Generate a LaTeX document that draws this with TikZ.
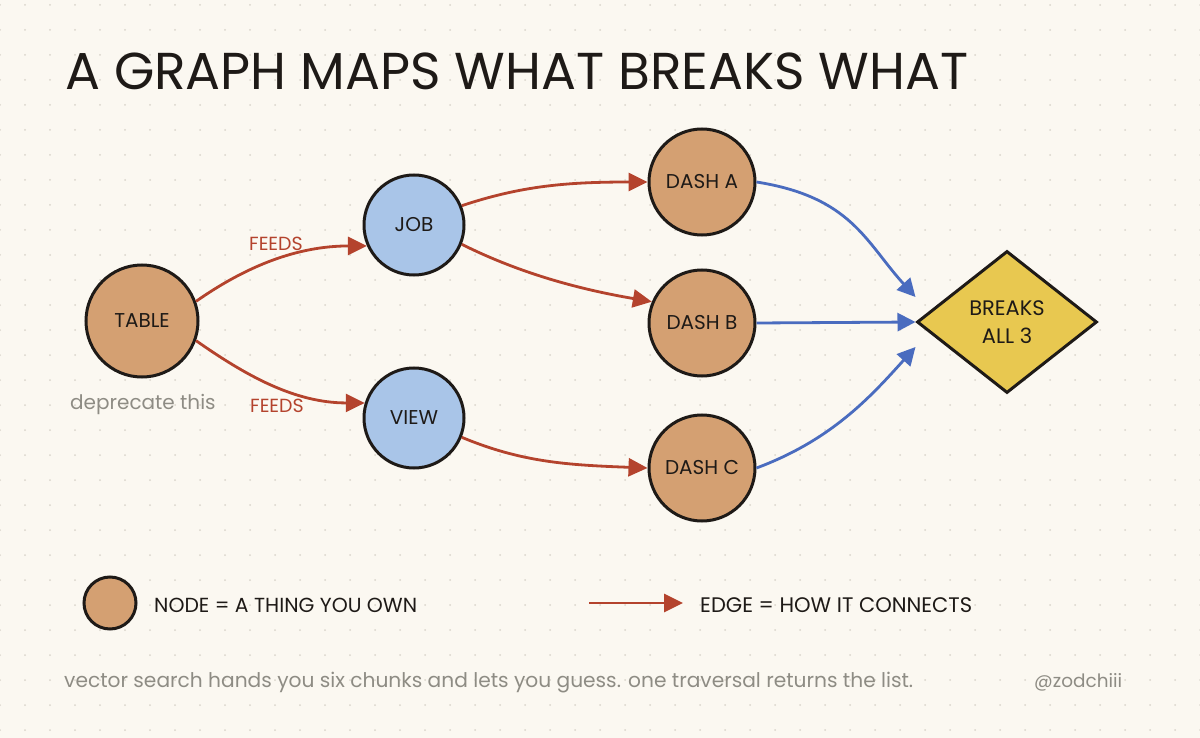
\documentclass[tikz,border=0pt]{standalone}
\usepackage{fontspec}
\setmainfont{Poppins}
\usetikzlibrary{arrows.meta,shapes.geometric}
\definecolor{bg}{HTML}{FBF8F1}
\definecolor{dotc}{HTML}{D9D5CC}
\definecolor{ink}{HTML}{1E1A17}
\definecolor{tan}{HTML}{D4A072}
\definecolor{sky}{HTML}{A9C5E8}
\definecolor{gold}{HTML}{E8C850}
\definecolor{rust}{HTML}{B4432D}
\definecolor{steel}{HTML}{4A6CBF}
\definecolor{muted}{HTML}{8E8C84}
\newcommand{\fitw}[2]{\resizebox{#1}{!}{#2}}
\tikzset{
  obj/.style={circle,draw=ink,line width=3pt,inner sep=0pt,text=ink,font=\fontsize{20}{23}\selectfont},
  tannode/.style={obj,fill=tan},
  skynode/.style={obj,fill=sky},
  redge/.style={draw=rust,line width=2.8pt,-{Triangle[length=19pt,width=18pt]}},
  bedge/.style={draw=steel,line width=2.8pt,-{Triangle[length=18pt,width=18pt]}},
  elabel/.style={text=rust,font=\fontsize{19}{21}\selectfont,inner sep=0pt},
  plain/.style={text=ink,inner sep=0pt,anchor=west},
  greytext/.style={text=muted,inner sep=0pt,anchor=west}
}
\begin{document}
\begin{tikzpicture}[x=1pt,y=-1pt]
\fill[bg] (0,0) rectangle (1200,738);
\useasboundingbox (0,0) rectangle (1200,738);
\foreach \i in {0,...,48} {\foreach \j in {0,...,29} {\fill[dotc] (25*\i,5+25*\j) circle[radius=1pt];}}

% title
\node[plain] (title) at (65,71) {\fitw{903pt}{\fontsize{50}{60}\selectfont A GRAPH MAPS WHAT BREAKS WHAT}};

% nodes
\node[tannode,minimum size=112pt] (table) at (142,321) {TABLE};
\node[skynode,minimum size=100pt] (job) at (414,225) {JOB};
\node[skynode,minimum size=100pt] (view) at (414,418) {VIEW};
\node[tannode,minimum size=106pt] (dasha) at (702,182) {DASH A};
\node[tannode,minimum size=106pt] (dashb) at (702,323) {DASH B};
\node[tannode,minimum size=106pt] (dashc) at (702,468) {DASH C};
\node[diamond,draw=ink,line width=3pt,fill=gold,inner sep=0pt,minimum width=180pt,minimum height=142pt,align=center,text=ink,font=\fontsize{21}{28}\selectfont] (brk) at (1007,322) {BREAKS\\ALL 3};

\node[greytext,font=\fontsize{20}{23}\selectfont] (dep) at (70,404) {deprecate this};
\node[elabel] (f1) at (276,244) {FEEDS};
\node[elabel] (f2) at (277,406) {FEEDS};

% red edges
\draw[redge] (table.20) .. controls +(50,-35) and +(-70,0) .. (job.204);
\draw[redge] (table.-20) .. controls +(50,35) and +(-70,0) .. (view.163);
\draw[redge] (job.22) .. controls +(60,-20) and +(-80,0) .. (dasha.west);
\draw[redge] (job.-22) .. controls +(60,30) and +(-70,-12) .. (dashb.157);
\draw[redge] (view.-22) .. controls +(60,25) and +(-80,-3) .. (dashc.west);

% blue edges
\draw[bedge] (dasha.east) .. controls +(95,15) and +(-50,-55) .. ([yshift=25pt]brk.west);
\draw[bedge] (dashb.east) -- (brk.west);
\draw[bedge] (dashc.east) .. controls +(75,-28) and +(-45,50) .. ([yshift=-25pt]brk.west);

% legend
\node[tannode,minimum size=52pt] (lnode) at (110,603) {};
\node[plain] (ltext1) at (154,605) {\fitw{263pt}{\fontsize{20}{24}\selectfont NODE = A THING YOU OWN}};
\coordinate (la) at (589,603);
\coordinate (lb) at (683,603);
\draw[redge] (la) -- (lb);
\node[plain] (ltext2) at (700,605) {\fitw{272pt}{\fontsize{20}{24}\selectfont EDGE = HOW IT CONNECTS}};

% footer
\node[greytext] (foot) at (64,683) {\fitw{849pt}{\fontsize{18}{22}\selectfont vector search hands you six chunks and lets you guess. one traversal returns the list.}};
\node[greytext] (handle) at (1034,682) {\fitw{88pt}{\fontsize{18}{22}\selectfont @zodchiii}};
\end{tikzpicture}
\end{document}
